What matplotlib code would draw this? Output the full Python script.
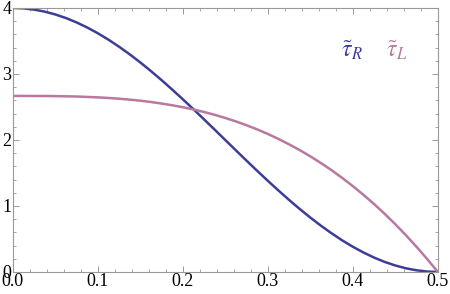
import matplotlib
matplotlib.use("Agg")
import matplotlib.pyplot as plt
from matplotlib.ticker import MultipleLocator

# values
x = [0.0, 0.0125, 0.025, 0.0375, 0.05, 0.0625, 0.075, 0.0875, 0.1, 0.1125,
     0.125, 0.1375, 0.15, 0.1625, 0.175, 0.1875, 0.2, 0.2125, 0.225, 0.2375,
     0.25, 0.2625, 0.275, 0.2875, 0.3, 0.3125, 0.325, 0.3375, 0.35, 0.3625,
     0.375, 0.3875, 0.4, 0.4125, 0.425, 0.4375, 0.45, 0.4625, 0.475, 0.4875, 0.5]
tau_r = [4.0, 3.994, 3.975, 3.945, 3.902, 3.848, 3.782, 3.705, 3.618, 3.521,
         3.414, 3.299, 3.176, 3.045, 2.908, 2.765, 2.618, 2.467, 2.313, 2.157,
         2.0, 1.843, 1.687, 1.533, 1.382, 1.235, 1.092, 0.955, 0.824, 0.701,
         0.586, 0.479, 0.382, 0.295, 0.218, 0.152, 0.098, 0.055, 0.025, 0.006, 0.0]
tau_l = [2.667, 2.667, 2.666, 2.666, 2.664, 2.661, 2.658, 2.652, 2.645, 2.636,
         2.625, 2.611, 2.595, 2.575, 2.552, 2.526, 2.496, 2.462, 2.424, 2.381,
         2.333, 2.281, 2.223, 2.160, 2.091, 2.016, 1.934, 1.847, 1.752, 1.650,
         1.542, 1.425, 1.301, 1.169, 1.029, 0.880, 0.723, 0.556, 0.380, 0.195, 0.0]

blue = "#3d3d99"
pink = "#b8789f"
frame = "#999999"

plt.rcParams['font.family'] = ['Liberation Serif', 'DejaVu Serif']
plt.rcParams['mathtext.fontset'] = 'stix'

fig = plt.figure(figsize=(4.5, 2.94), dpi=100)
ax = fig.add_axes([0.028, 0.075, 0.945, 0.898])

ax.plot(x, tau_r, color=blue, lw=1.8, solid_capstyle='round')
ax.plot(x, tau_l, color=pink, lw=1.8, solid_capstyle='round')

ax.set_xlim(0, 0.5)
ax.set_ylim(0, 4)
ax.xaxis.set_major_locator(MultipleLocator(0.1))
ax.xaxis.set_minor_locator(MultipleLocator(0.02))
ax.yaxis.set_major_locator(MultipleLocator(1))
ax.yaxis.set_minor_locator(MultipleLocator(0.2))
ax.xaxis.set_major_formatter(plt.FuncFormatter(lambda v, p: f"{v:.1f}"))
ax.yaxis.set_major_formatter(plt.FuncFormatter(lambda v, p: f"{v:.0f}"))

for s in ax.spines.values():
    s.set_color(frame)
    s.set_linewidth(0.8)
ax.tick_params(which='both', direction='in', top=True, right=True,
               color=frame, labelsize=13, labelcolor='black', pad=1)
ax.tick_params(which='major', length=4.5, width=0.7)
ax.tick_params(which='minor', length=2.5, width=0.6)

ax.text(0.399, 3.36, r'$\tilde{\tau}_R$', color=blue, fontsize=17,
        ha='center', va='center')
ax.text(0.452, 3.36, r'$\tilde{\tau}_L$', color=pink, fontsize=17,
        ha='center', va='center')

fig.savefig("out.png", dpi=100)
